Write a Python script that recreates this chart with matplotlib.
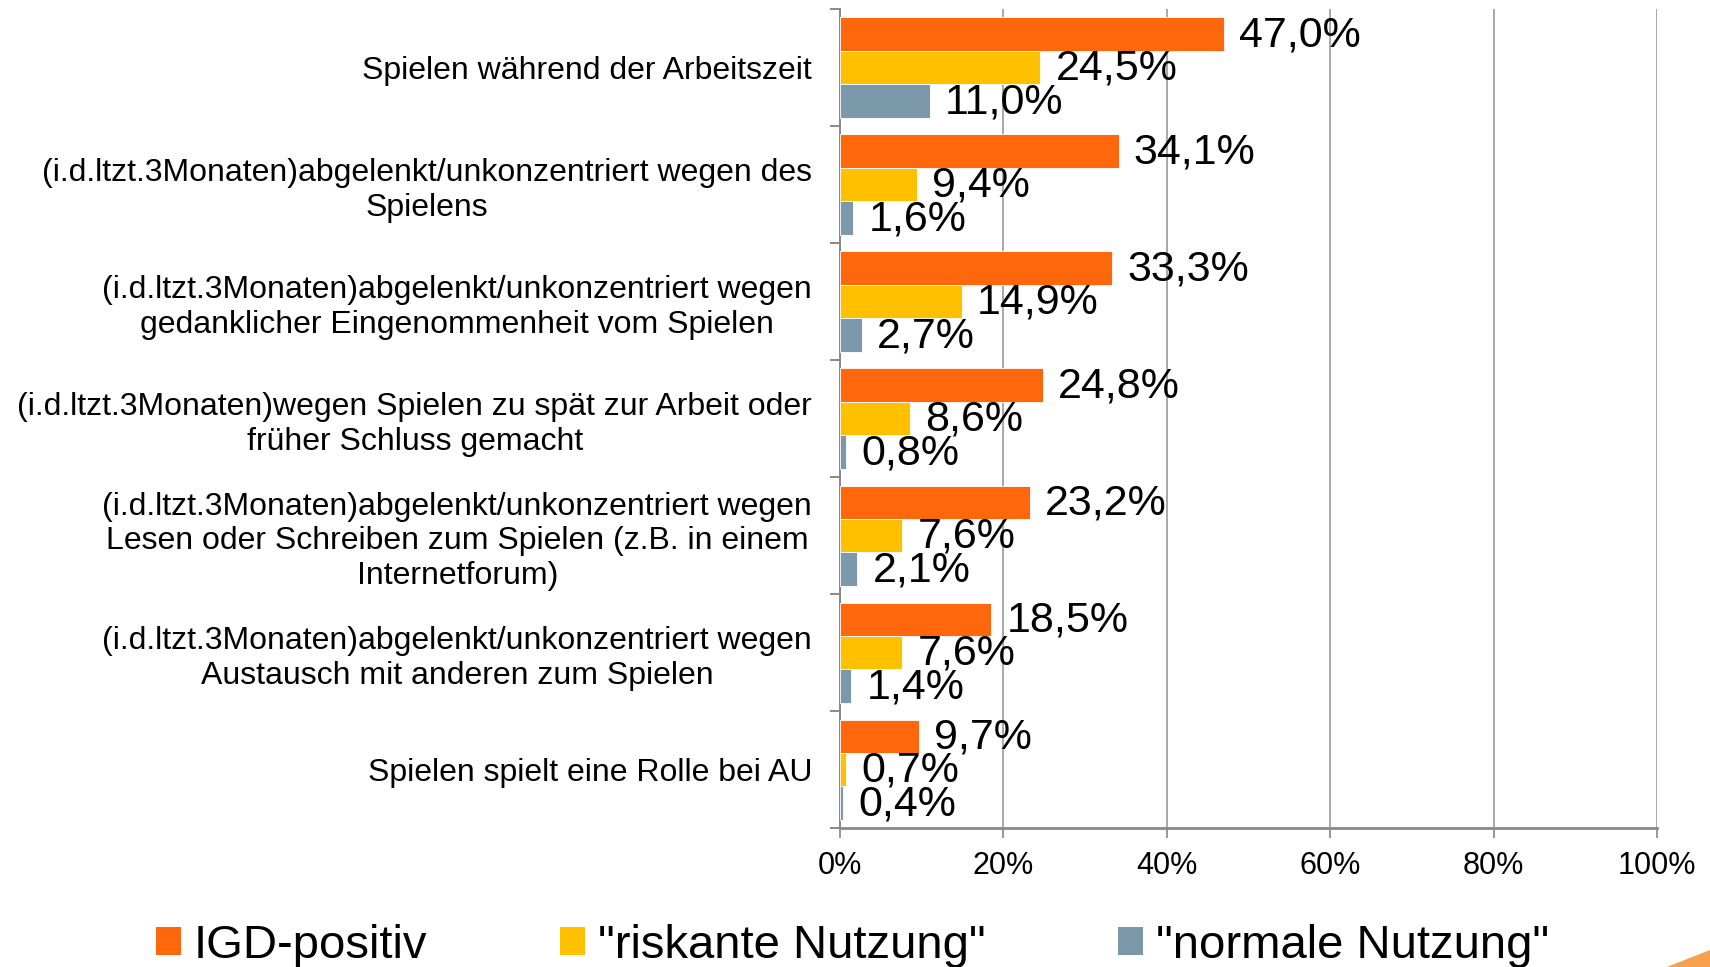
import matplotlib
matplotlib.use("Agg")
from matplotlib import pyplot as plt
from matplotlib.patches import Patch, Polygon
import numpy as np

plt.rcParams['font.family'] = ['Liberation Sans', 'DejaVu Sans']

categories = [
    "Spielen während der Arbeitszeit",
    "(i.d.ltzt.3Monaten)abgelenkt/unkonzentriert wegen des\nSpielens",
    "(i.d.ltzt.3Monaten)abgelenkt/unkonzentriert wegen\ngedanklicher Eingenommenheit vom Spielen",
    "(i.d.ltzt.3Monaten)wegen Spielen zu spät zur Arbeit oder\nfrüher Schluss gemacht",
    "(i.d.ltzt.3Monaten)abgelenkt/unkonzentriert wegen\nLesen oder Schreiben zum Spielen (z.B. in einem\nInternetforum)",
    "(i.d.ltzt.3Monaten)abgelenkt/unkonzentriert wegen\nAustausch mit anderen zum Spielen",
    "Spielen spielt eine Rolle bei AU",
]
igd_positiv = [47.0, 34.1, 33.3, 24.8, 23.2, 18.5, 9.7]
riskant = [24.5, 9.4, 14.9, 8.6, 7.6, 7.6, 0.7]
normal = [11.0, 1.6, 2.7, 0.8, 2.1, 1.4, 0.4]
series_names = ['IGD-positiv', '"riskante Nutzung"', '"normale Nutzung"']
colors = ['#FF670D', '#FFC000', '#7B99AA']
x_ticks = [0, 20, 40, 60, 80, 100]

fig = plt.figure(figsize=(17.1, 9.67), dpi=100)
ax = fig.add_axes([0.4912, 0.1437, 0.4778, 0.847])

h = 0.285
idx = np.arange(len(categories))
for k, (vals, col) in enumerate(zip([igd_positiv, riskant, normal], colors)):
    ypos = idx + (k - 1) * h
    ax.barh(ypos, vals, height=h, color=col, edgecolor='white', linewidth=0.6, zorder=3)
    for y, v in zip(ypos, vals):
        ax.annotate(("%.1f%%" % v).replace('.', ','), (v, y), xytext=(11, -1),
                    textcoords='offset points', ha='left', va='center',
                    fontsize=31, zorder=4)

ax.set_xlim(0, 100)
ax.set_ylim(len(categories) - 0.5, -0.5)
ax.set_xticks(x_ticks)
ax.set_xticklabels(["%d%%" % t for t in x_ticks])
ax.set_yticks(idx)
ax.set_yticklabels(categories)
ax.set_yticks(np.arange(len(categories) + 1) - 0.5, minor=True)
for t in ax.get_yticklabels():
    t.set_multialignment('center')
    t.set_linespacing(1.2)

ax.tick_params(axis='y', which='major', length=0, pad=20, labelsize=23)
ax.tick_params(axis='y', which='minor', length=7.2, width=1.4, color='#888888')
ax.tick_params(axis='x', length=7.2, width=1.2, color='#888888', pad=9, labelsize=22)

ax.grid(axis='x', color='#999999', linewidth=1.2, zorder=0)
for s in ['top', 'right']:
    ax.spines[s].set_visible(False)
ax.spines['left'].set_color('#888888')
ax.spines['left'].set_linewidth(1.4)
ax.spines['bottom'].set_color('#888888')
ax.spines['bottom'].set_linewidth(2.0)

handles = [Patch(facecolor=c, edgecolor='none') for c in colors]
fig.legend(handles, series_names, loc='center', bbox_to_anchor=(0.4985, 0.022),
           ncol=3, frameon=False, fontsize=34, handlelength=0.53, handleheight=0.53,
           handletextpad=0.28, columnspacing=2.8, borderaxespad=0)

# slide decoration in the lower right corner
fig.patches.append(Polygon([[1667 / 1710, 0], [1, 17 / 967], [1, 0]], closed=True,
                           transform=fig.transFigure, facecolor='#F7A04E',
                           edgecolor='none'))

fig.savefig('out.png', dpi=100)
